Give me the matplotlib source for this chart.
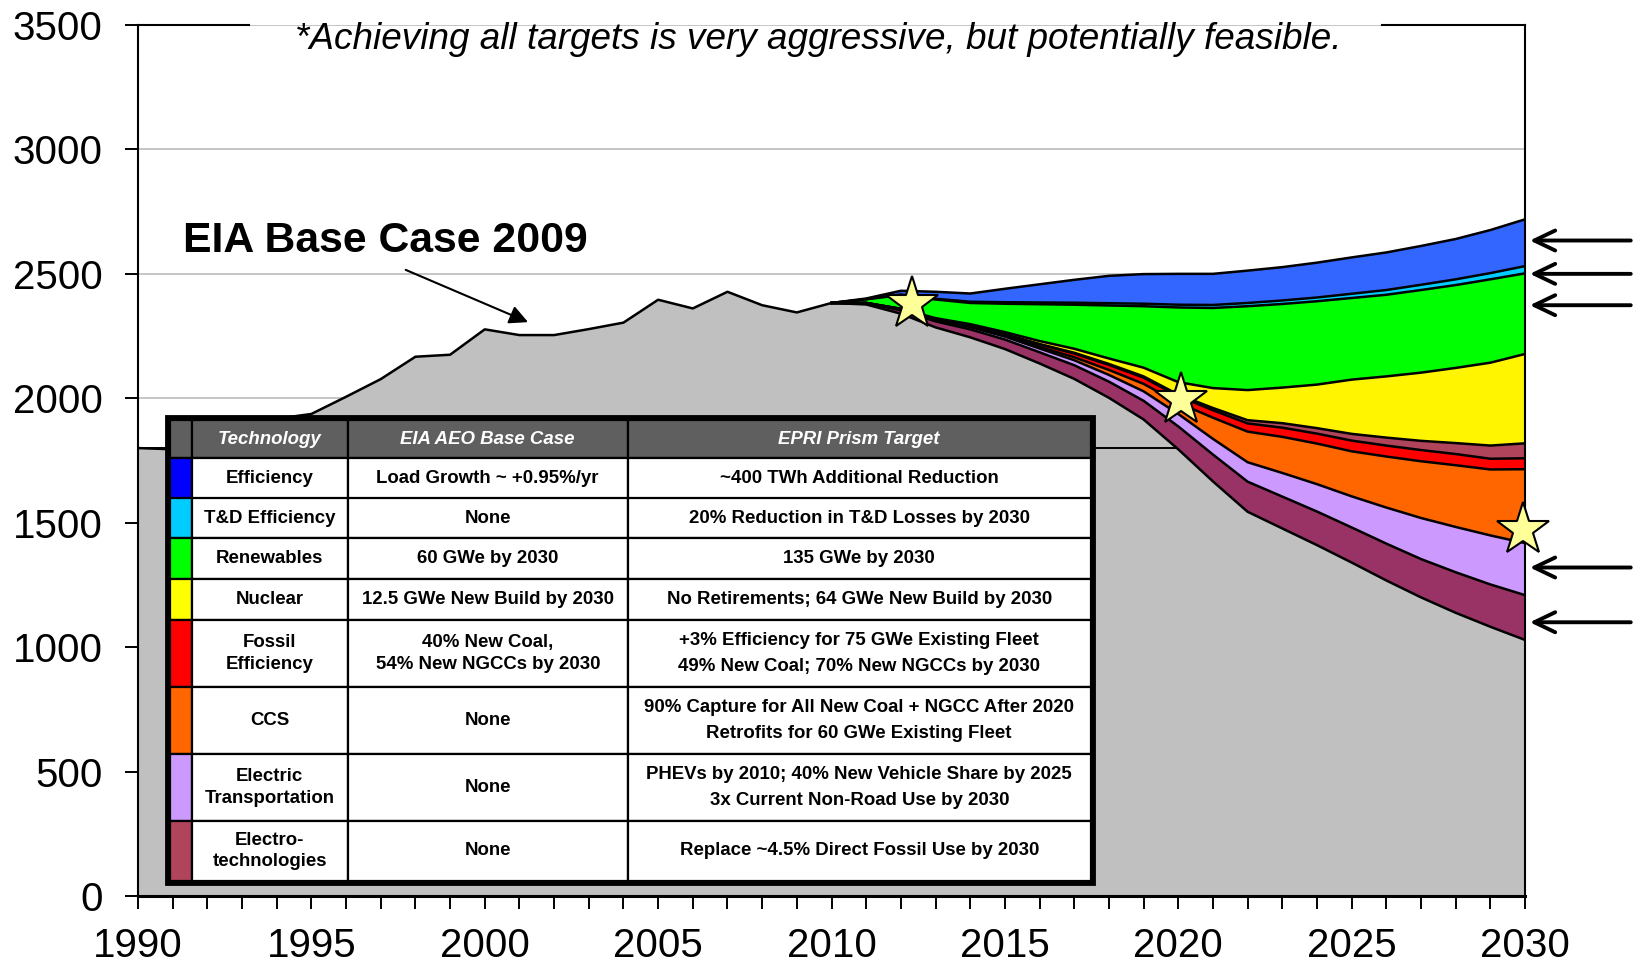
import numpy as np
import matplotlib
matplotlib.use("Agg")
import matplotlib.pyplot as plt
from matplotlib.patches import Rectangle

# ---------------- data ----------------
hist_years = list(range(1990, 2010))
hist_emissions = [1800, 1795, 1810, 1870, 1918, 1937, 2006, 2077, 2167, 2175,
                  2277, 2254, 2254, 2278, 2304, 2396, 2361, 2428, 2374, 2345]

proj_years = list(range(2010, 2031))
remaining = [2383, 2377, 2340, 2285, 2245, 2198, 2140, 2078, 2002, 1915, 1795,
             1666, 1544, 1477, 1410, 1340, 1268, 1200, 1138, 1082, 1029]
electro_tech = [0, 5, 14, 24, 32, 38, 45, 55, 65, 75, 92,
                108, 121, 128, 135, 141, 148, 154, 163, 170, 180]
electric_transport = [0, 1, 4, 7, 10, 12, 15, 20, 27, 38, 50,
                      63, 78, 95, 110, 125, 145, 165, 182, 197, 209]
ccs = [0, 0, 0, 0, 0, 2, 6, 12, 20, 30, 45,
       85, 123, 145, 163, 181, 205, 228, 248, 265, 297]
fossil_eff = [0, 0, 1, 3, 5, 7, 10, 15, 20, 25, 27,
              30, 33, 37, 40, 43, 44, 45, 45, 43, 44]
fossil_eff_new = [0, 0, 0, 0, 1, 1, 2, 3, 4, 5, 6,
                  9, 13, 18, 22, 27, 32, 37, 44, 53, 60]
nuclear = [0, 0, 1, 3, 5, 8, 12, 16, 22, 35, 50,
           80, 121, 143, 175, 218, 246, 274, 302, 333, 359]
renewables = [0, 15, 55, 75, 85, 114, 148, 177, 213, 247, 300,
              322, 337, 336, 335, 328, 328, 332, 333, 335, 324]
td_eff = [0, 0, 2, 3, 5, 6, 7, 8, 9, 10, 11,
          12, 13, 14, 15, 17, 19, 21, 23, 25, 29]
efficiency = [0, 3, 15, 28, 33, 54, 73, 92, 110, 119, 124,
              125, 130, 134, 140, 146, 151, 156, 162, 173, 188]

wedges = [electro_tech, electric_transport, ccs, fossil_eff, fossil_eff_new,
          nuclear, renewables, td_eff, efficiency]
wedge_colors = ['#993366', '#CC99FF', '#FF6600', '#FF0000', '#B0445A',
                '#FFF500', '#00FF00', '#00CCFF', '#3366FF']

star_points = [(2012.31, 2378), (2020.08, 1993), (2029.94, 1469)]
arrow_levels = [2634, 2500, 2374, 1320, 1100]

title_text = "*Achieving all targets is very aggressive, but potentially feasible."
base_label = "EIA Base Case 2009"

headers = ["Technology", "EIA AEO Base Case", "EPRI Prism Target"]
tech_labels = ["Efficiency", "T&D Efficiency", "Renewables", "Nuclear",
               "Fossil\nEfficiency", "CCS", "Electric\nTransportation",
               "Electro-\ntechnologies"]
eia_labels = ["Load Growth ~ +0.95%/yr", "None", "60 GWe by 2030",
              "12.5 GWe New Build by 2030", "40% New Coal,\n54% New NGCCs by 2030",
              "None", "None", "None"]
epri_labels = ["~400 TWh Additional Reduction",
               "20% Reduction in T&D Losses by 2030",
               "135 GWe by 2030",
               "No Retirements; 64 GWe New Build by 2030",
               "+3% Efficiency for 75 GWe Existing Fleet\n49% New Coal; 70% New NGCCs by 2030",
               "90% Capture for All New Coal + NGCC After 2020\nRetrofits for 60 GWe Existing Fleet",
               "PHEVs by 2010; 40% New Vehicle Share by 2025\n3x Current Non-Road Use by 2030",
               "Replace ~4.5% Direct Fossil Use by 2030"]
swatch_colors = ['#0000FF', '#00CCFF', '#00FF00', '#FFFF00', '#FF0000',
                 '#FF6600', '#CC99FF', '#B0445A']

# ---------------- figure ----------------
plt.rcParams['font.family'] = ['Liberation Sans', 'DejaVu Sans']
W, H = 1639, 973
fig = plt.figure(figsize=(W / 100, H / 100), dpi=100)
ax = fig.add_axes([138 / W, 1 - 896 / H, 1387 / W, 871 / H])

LW = 1.8
all_years = np.array(hist_years + proj_years)
gray_top = np.array(hist_emissions + remaining, dtype=float)
ax.fill_between(all_years, 0, gray_top, color='#C0C0C0', lw=0, zorder=1)

# 1990 level line
level = hist_emissions[0]
x_cross = np.interp(level, np.array(remaining[::-1], float), np.array(proj_years[::-1], float))
ax.plot([1990, x_cross], [level, level], color='black', lw=1.4, zorder=1.5)

py = np.array(proj_years)
lower = np.array(remaining, dtype=float)
for vals, col in zip(wedges, wedge_colors):
    upper = lower + np.array(vals, dtype=float)
    ax.fill_between(py, lower, upper, color=col, lw=0, zorder=2)
    lower = upper
# boundary lines
lower = np.array(remaining, dtype=float)
ax.plot(all_years, gray_top, color='black', lw=LW, zorder=3)
for vals in wedges:
    lower = lower + np.array(vals, dtype=float)
    ax.plot(py, lower, color='black', lw=LW, zorder=3)

# stars
for sx, sy in star_points:
    ax.plot(sx, sy, marker='*', markersize=40, markerfacecolor='#FFFF99',
            markeredgecolor='black', markeredgewidth=1.5, zorder=5, clip_on=False)

# axes styling
ax.set_xlim(1990, 2030)
ax.set_ylim(0, 3500)
ax.set_xticks(range(1990, 2031, 5))
ax.set_xticks(range(1990, 2031, 1), minor=True)
ax.set_yticks(range(0, 3501, 500))
ax.yaxis.grid(True, color='#C0C0C0', lw=1.3)
ax.set_axisbelow(True)
ax.tick_params(axis='x', which='both', direction='out', length=9, width=1.4,
               pad=13, labelsize=29)
ax.tick_params(axis='y', which='major', direction='out', length=9.5, width=1.4,
               pad=16, labelsize=29)
ax.spines['top'].set_visible(False)
for s in ['left', 'right']:
    ax.spines[s].set_linewidth(1.5)
ax.spines['bottom'].set_linewidth(2.2)

# top spine broken by the title
x1 = 1990 + (249 - 138) / 34.675
x2 = 1990 + (1382 - 138) / 34.675
ax.plot([1990, x1], [3500, 3500], color='black', lw=1.5, clip_on=False, zorder=6)
ax.plot([x2, 2030], [3500, 3500], color='black', lw=1.5, clip_on=False, zorder=6)
ax.text(0.4905, 0.983, title_text, transform=ax.transAxes, ha='center', va='center',
        fontsize=26.6, style='italic', zorder=7)

# base case annotation
ax.text(1991.3, 2632, base_label, fontsize=30.8, fontweight='bold',
        ha='left', va='center', zorder=7)
ax.annotate('', xy=(2001.25, 2306), xytext=(1997.72, 2516),
            arrowprops=dict(arrowstyle='-|>', color='black', lw=1.5,
                            mutation_scale=28, shrinkA=0, shrinkB=0), zorder=7)

# right-hand arrows
for yv in arrow_levels:
    ax.annotate('', xy=(2030.14, yv), xytext=(2033.05, yv), annotation_clip=False,
                arrowprops=dict(arrowstyle='->,head_length=0.75,head_width=0.36',
                                color='black', lw=2.8, mutation_scale=20,
                                shrinkA=0, shrinkB=0))

# ---------------- table ----------------
tx0, tx1, ty0, ty1 = 163, 1098, 413, 887
tab = fig.add_axes([tx0 / W, 1 - ty1 / H, (tx1 - tx0) / W, (ty1 - ty0) / H])
tab.set_xlim(tx0, tx1)
tab.set_ylim(ty1, ty0)
tab.axis('off')

col_x = [170, 191.5, 348, 627.5, 1091]
row_y = [420, 458, 498.5, 538.5, 579, 620, 687, 754, 821, 881]
GRID_LW = 1.6

# header row
for c in range(4):
    tab.add_patch(Rectangle((col_x[c], row_y[0]), col_x[c + 1] - col_x[c],
                            row_y[1] - row_y[0], facecolor='#5F5F5F',
                            edgecolor='black', lw=GRID_LW))
for c, h in enumerate(headers):
    tab.text((col_x[c + 1] + col_x[c + 2]) / 2, (row_y[0] + row_y[1]) / 2, h,
             ha='center', va='center', color='white', fontsize=13.4,
             fontweight='bold', style='italic')

fs = 13.4
for r in range(8):
    y0, y1 = row_y[r + 1], row_y[r + 2]
    yc = (y0 + y1) / 2
    tab.add_patch(Rectangle((col_x[0], y0), col_x[1] - col_x[0], y1 - y0,
                            facecolor=swatch_colors[r], edgecolor='black', lw=GRID_LW))
    for c in range(1, 4):
        tab.add_patch(Rectangle((col_x[c], y0), col_x[c + 1] - col_x[c], y1 - y0,
                                facecolor='white', edgecolor='black', lw=GRID_LW))
    tab.text((col_x[1] + col_x[2]) / 2, yc, tech_labels[r], ha='center', va='center',
             fontsize=fs, fontweight='bold', linespacing=1.33)
    tab.text((col_x[2] + col_x[3]) / 2, yc, eia_labels[r], ha='center', va='center',
             fontsize=fs, fontweight='bold', linespacing=1.33)
    tab.text((col_x[3] + col_x[4]) / 2, yc, epri_labels[r], ha='center', va='center',
             fontsize=fs, fontweight='bold', linespacing=1.7)

# thick outer frame
tab.add_patch(Rectangle((168, 418), 1093 - 168, 882.5 - 418, facecolor='none',
                        edgecolor='black', lw=4.2))

fig.savefig('out.png', dpi=100)
